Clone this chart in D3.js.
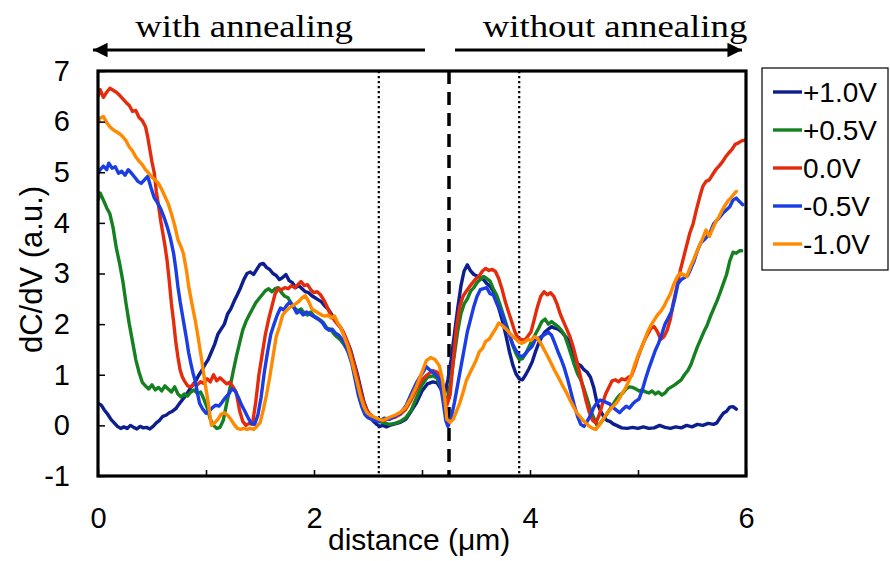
<!DOCTYPE html>
<html>
<head>
<meta charset="utf-8">
<script src="https://cdn.jsdelivr.net/npm/d3@7"></script>
<style>
  html, body { margin: 0; padding: 0; background: #fff; }
  svg { display: block; }
</style>
</head>
<body>
<svg id="chart" width="890" height="561"></svg>
<script>
// dC/dV profiles across the annealed / non-annealed boundary, one per bias voltage.
// Each series is a list of [distance (µm), dC/dV (a.u.)] samples.

const seriesNames = ["+1.0V", "+0.5V", "0.0V", "-0.5V", "-1.0V"];
const seriesColors = ["#0d1e8e", "#14801f", "#e42c0c", "#1a3de4", "#ff8a00"];

const xTicks = [0, 1, 2, 3, 4, 5, 6];
const xTickLabels = ["0", "", "2", "", "4", "", "6"];
const yTicks = [-1, 0, 1, 2, 3, 4, 5, 6, 7];

const boundaryX = 3.25;          // dashed line: edge of the annealed region
const markerXs = [2.6, 3.9];     // dotted reference lines

const vPlus10 = [
  [0.00,0.44],[0.03,0.40],[0.06,0.30],[0.09,0.22],[0.12,0.12],[0.15,0.05],[0.18,-0.02],[0.21,-0.06],
  [0.24,-0.03],[0.27,-0.06],[0.30,0.00],[0.33,-0.04],[0.36,-0.07],[0.39,-0.02],[0.42,-0.05],[0.45,-0.04],
  [0.48,-0.07],[0.51,-0.02],[0.54,0.05],[0.57,0.10],[0.60,0.18],[0.63,0.20],[0.66,0.25],[0.69,0.28],
  [0.72,0.33],[0.75,0.42],[0.78,0.50],[0.81,0.58],[0.84,0.68],[0.87,0.78],[0.90,0.86],[0.93,0.98],
  [0.96,1.08],[0.99,1.20],[1.02,1.30],[1.05,1.45],[1.08,1.60],[1.11,1.80],[1.14,1.90],[1.17,2.00],
  [1.20,2.20],[1.23,2.30],[1.26,2.45],[1.29,2.58],[1.32,2.72],[1.35,2.88],[1.38,3.00],[1.41,3.03],
  [1.44,2.98],[1.47,3.08],[1.50,3.18],[1.53,3.20],[1.56,3.12],[1.59,3.08],[1.62,3.00],[1.65,2.96],
  [1.68,2.88],[1.71,2.92],[1.74,2.98],[1.77,2.86],[1.80,2.82],[1.83,2.72],[1.86,2.76],[1.89,2.70],
  [1.92,2.64],[1.95,2.62],[1.98,2.56],[2.01,2.52],[2.04,2.48],[2.07,2.44],[2.10,2.36],[2.13,2.30],
  [2.16,2.20],[2.19,2.10],[2.22,2.00],[2.25,1.92],[2.28,1.78],[2.31,1.64],[2.34,1.48],[2.37,1.25],
  [2.40,1.02],[2.43,0.75],[2.46,0.48],[2.49,0.30],[2.52,0.18],[2.55,0.08],[2.58,0.02],[2.61,-0.02],
  [2.64,0.00],[2.67,-0.03],[2.70,0.00],[2.75,0.03],[2.80,0.06],[2.85,0.12],[2.90,0.28],[2.95,0.45],
  [3.00,0.68],[3.05,0.82],[3.10,0.86],[3.14,0.84],[3.18,0.70],[3.21,0.64],[3.24,0.90],[3.27,1.30],
  [3.30,1.80],[3.33,2.30],[3.36,2.75],[3.39,3.05],[3.42,3.17],[3.45,3.05],[3.48,2.98],[3.51,2.95],
  [3.54,2.92],[3.57,2.88],[3.60,2.80],[3.63,2.75],[3.66,2.65],[3.69,2.45],[3.72,2.25],[3.75,2.02],
  [3.78,1.75],[3.81,1.45],[3.84,1.20],[3.87,1.02],[3.90,0.92],[3.93,0.90],[3.96,1.00],[3.99,1.12],
  [4.02,1.25],[4.05,1.45],[4.08,1.62],[4.11,1.75],[4.14,1.85],[4.17,1.90],[4.20,1.95],[4.23,1.92],
  [4.26,1.90],[4.29,1.85],[4.32,1.78],[4.35,1.70],[4.38,1.55],[4.41,1.35],[4.44,1.22],[4.47,1.18],
  [4.50,1.10],[4.53,1.05],[4.56,0.95],[4.59,0.75],[4.62,0.45],[4.65,0.30],[4.68,0.18],[4.71,0.10],
  [4.74,0.08],[4.77,0.03],[4.80,0.00],[4.85,-0.05],[4.90,-0.06],[4.95,-0.04],[5.00,-0.06],[5.05,-0.03],
  [5.10,-0.06],[5.15,-0.05],[5.20,0.00],[5.25,-0.04],[5.30,-0.06],[5.35,-0.03],[5.40,-0.05],[5.45,0.00],
  [5.50,-0.03],[5.55,0.02],[5.60,0.00],[5.65,0.04],[5.70,0.02],[5.73,0.05],[5.76,0.15],[5.79,0.24],
  [5.82,0.28],[5.85,0.36],[5.88,0.37],[5.91,0.32]
];

const vPlus05 = [
  [0.00,4.45],[0.02,4.59],[0.05,4.45],[0.08,4.30],[0.11,4.18],[0.14,3.90],[0.17,3.50],[0.20,3.20],
  [0.23,2.85],[0.26,2.40],[0.29,2.00],[0.32,1.65],[0.35,1.30],[0.38,1.05],[0.41,0.85],[0.44,0.78],
  [0.47,0.72],[0.50,0.80],[0.53,0.70],[0.56,0.75],[0.59,0.68],[0.62,0.78],[0.65,0.72],[0.68,0.66],
  [0.71,0.76],[0.74,0.62],[0.77,0.56],[0.80,0.62],[0.83,0.58],[0.86,0.66],[0.89,0.70],[0.92,0.63],
  [0.95,0.66],[0.98,0.52],[1.01,0.35],[1.04,0.12],[1.07,0.00],[1.10,-0.06],[1.13,-0.04],[1.16,0.10],
  [1.19,0.42],[1.22,0.72],[1.25,1.05],[1.28,1.35],[1.31,1.62],[1.34,1.88],[1.37,2.05],[1.40,2.18],
  [1.43,2.30],[1.46,2.42],[1.49,2.50],[1.52,2.58],[1.55,2.66],[1.58,2.70],[1.61,2.64],[1.64,2.70],
  [1.67,2.72],[1.70,2.62],[1.73,2.55],[1.76,2.52],[1.79,2.40],[1.82,2.32],[1.85,2.26],[1.88,2.30],
  [1.91,2.22],[1.94,2.18],[1.97,2.24],[2.00,2.16],[2.03,2.12],[2.06,2.08],[2.09,2.02],[2.12,1.92],
  [2.15,1.90],[2.18,1.82],[2.21,1.75],[2.24,1.70],[2.27,1.62],[2.30,1.52],[2.33,1.40],[2.36,1.25],
  [2.39,1.02],[2.42,0.72],[2.45,0.45],[2.48,0.30],[2.51,0.22],[2.55,0.14],[2.60,0.08],[2.65,0.05],
  [2.70,0.02],[2.75,0.04],[2.80,0.08],[2.85,0.15],[2.90,0.30],[2.95,0.55],[3.00,0.80],[3.05,0.95],
  [3.10,0.98],[3.14,0.93],[3.18,0.72],[3.21,0.55],[3.24,0.50],[3.27,0.95],[3.30,1.40],[3.33,1.85],
  [3.36,2.20],[3.39,2.40],[3.42,2.50],[3.45,2.65],[3.48,2.72],[3.51,2.82],[3.54,2.88],[3.57,2.94],
  [3.60,2.90],[3.63,2.85],[3.66,2.70],[3.69,2.58],[3.72,2.40],[3.75,2.20],[3.78,2.00],[3.81,1.80],
  [3.84,1.58],[3.87,1.42],[3.90,1.30],[3.93,1.32],[3.96,1.42],[3.99,1.55],[4.02,1.68],[4.05,1.80],
  [4.08,1.92],[4.11,2.05],[4.14,2.10],[4.17,2.00],[4.20,2.05],[4.23,2.00],[4.26,1.95],[4.29,1.88],
  [4.32,1.78],[4.35,1.60],[4.38,1.40],[4.41,1.20],[4.44,1.02],[4.47,0.90],[4.50,0.72],[4.53,0.52],
  [4.56,0.30],[4.59,0.15],[4.62,0.00],[4.65,0.04],[4.68,0.12],[4.71,0.22],[4.74,0.32],[4.77,0.42],
  [4.80,0.52],[4.83,0.60],[4.86,0.64],[4.89,0.72],[4.92,0.76],[4.95,0.75],[4.98,0.72],[5.01,0.68],
  [5.04,0.70],[5.07,0.66],[5.10,0.64],[5.13,0.68],[5.16,0.62],[5.19,0.66],[5.22,0.60],[5.25,0.64],
  [5.28,0.72],[5.31,0.76],[5.34,0.80],[5.37,0.85],[5.40,0.90],[5.43,1.00],[5.46,1.08],[5.49,1.20],
  [5.52,1.38],[5.55,1.55],[5.58,1.70],[5.61,1.85],[5.64,1.98],[5.67,2.15],[5.70,2.30],[5.73,2.45],
  [5.76,2.62],[5.79,2.80],[5.82,2.98],[5.85,3.25],[5.88,3.42],[5.91,3.40],[5.94,3.45],[5.96,3.45]
];

const vZero = [
  [0.00,6.50],[0.02,6.63],[0.05,6.48],[0.08,6.58],[0.11,6.66],[0.14,6.62],[0.17,6.58],[0.20,6.52],
  [0.23,6.45],[0.26,6.38],[0.29,6.32],[0.32,6.20],[0.35,6.22],[0.38,6.08],[0.41,6.02],[0.44,5.90],
  [0.46,5.70],[0.48,5.45],[0.50,5.20],[0.52,5.00],[0.54,4.62],[0.56,4.35],[0.58,4.05],[0.60,3.80],
  [0.62,3.55],[0.64,3.25],[0.66,2.85],[0.68,2.40],[0.70,2.05],[0.72,1.65],[0.74,1.35],[0.76,1.10],
  [0.78,0.96],[0.80,0.88],[0.83,0.78],[0.86,0.76],[0.89,0.82],[0.92,0.80],[0.95,0.86],[0.98,0.83],
  [1.01,0.92],[1.04,0.86],[1.07,1.00],[1.10,0.88],[1.13,0.94],[1.16,0.88],[1.19,0.82],[1.22,0.85],
  [1.25,0.76],[1.28,0.65],[1.31,0.30],[1.34,0.08],[1.37,0.00],[1.40,0.04],[1.43,0.02],[1.46,0.45],
  [1.49,1.00],[1.52,1.40],[1.55,1.80],[1.58,2.10],[1.61,2.35],[1.64,2.60],[1.67,2.70],[1.70,2.68],
  [1.73,2.72],[1.76,2.70],[1.79,2.76],[1.82,2.72],[1.85,2.78],[1.88,2.84],[1.91,2.76],[1.94,2.78],
  [1.97,2.68],[2.00,2.62],[2.03,2.64],[2.06,2.58],[2.09,2.48],[2.12,2.35],[2.15,2.20],[2.18,2.10],
  [2.21,2.02],[2.24,1.95],[2.27,1.85],[2.30,1.70],[2.33,1.52],[2.36,1.30],[2.39,1.05],[2.42,0.78],
  [2.45,0.52],[2.48,0.34],[2.51,0.24],[2.55,0.16],[2.60,0.12],[2.65,0.10],[2.70,0.14],[2.75,0.16],
  [2.80,0.22],[2.85,0.32],[2.90,0.50],[2.95,0.72],[3.00,0.90],[3.05,1.00],[3.10,1.08],[3.14,1.05],
  [3.18,0.92],[3.21,0.62],[3.23,0.40],[3.26,0.60],[3.29,1.30],[3.32,1.95],[3.35,2.35],[3.38,2.55],
  [3.41,2.65],[3.44,2.74],[3.47,2.82],[3.50,2.90],[3.53,2.95],[3.56,3.05],[3.59,3.10],[3.62,3.06],
  [3.65,3.08],[3.68,3.04],[3.71,2.90],[3.74,2.70],[3.77,2.45],[3.80,2.25],[3.83,2.05],[3.86,1.85],
  [3.89,1.72],[3.92,1.70],[3.95,1.68],[3.98,1.76],[4.01,1.85],[4.04,2.10],[4.07,2.35],[4.10,2.55],
  [4.13,2.64],[4.16,2.58],[4.19,2.62],[4.22,2.55],[4.25,2.40],[4.28,2.20],[4.31,2.05],[4.34,1.90],
  [4.37,1.75],[4.40,1.55],[4.43,1.30],[4.46,1.03],[4.49,0.75],[4.52,0.48],[4.55,0.25],[4.58,0.10],
  [4.61,0.05],[4.64,0.20],[4.67,0.42],[4.70,0.62],[4.73,0.75],[4.76,0.88],[4.79,0.90],[4.82,0.86],
  [4.85,0.92],[4.88,0.90],[4.91,0.95],[4.94,0.98],[4.97,1.15],[5.00,1.35],[5.03,1.52],[5.06,1.68],
  [5.09,1.80],[5.12,1.92],[5.15,1.95],[5.18,1.85],[5.21,1.70],[5.24,1.75],[5.27,1.88],[5.30,2.10],
  [5.33,2.45],[5.36,2.74],[5.39,3.05],[5.42,3.30],[5.45,3.55],[5.48,3.80],[5.51,3.98],[5.54,4.25],
  [5.57,4.50],[5.60,4.72],[5.63,4.82],[5.66,4.85],[5.69,4.95],[5.72,5.05],[5.75,5.12],[5.78,5.20],
  [5.81,5.30],[5.84,5.38],[5.87,5.45],[5.90,5.55],[5.93,5.58],[5.96,5.62],[6.00,5.64]
];

const vMinus05 = [
  [0.00,4.98],[0.02,5.05],[0.05,5.12],[0.08,5.05],[0.10,5.18],[0.13,5.08],[0.16,5.11],[0.19,4.98],
  [0.22,5.02],[0.25,4.94],[0.28,5.05],[0.31,4.98],[0.34,4.90],[0.37,4.82],[0.40,4.78],[0.43,4.85],
  [0.46,4.92],[0.49,4.70],[0.52,4.50],[0.55,4.40],[0.58,4.28],[0.61,4.12],[0.64,3.93],[0.67,3.70],
  [0.70,3.40],[0.72,3.10],[0.74,2.74],[0.76,2.45],[0.78,2.20],[0.80,1.95],[0.82,1.70],[0.84,1.43],
  [0.86,1.22],[0.88,1.03],[0.90,0.88],[0.92,0.65],[0.94,0.44],[0.97,0.32],[1.00,0.24],[1.03,0.28],
  [1.06,0.35],[1.09,0.40],[1.12,0.38],[1.15,0.46],[1.18,0.55],[1.21,0.62],[1.24,0.72],[1.27,0.68],
  [1.30,0.55],[1.33,0.40],[1.36,0.28],[1.39,0.15],[1.42,0.04],[1.45,0.02],[1.48,0.20],[1.51,0.55],
  [1.54,1.05],[1.57,1.45],[1.60,1.80],[1.63,2.00],[1.66,2.18],[1.69,2.32],[1.72,2.28],[1.75,2.38],
  [1.78,2.44],[1.81,2.34],[1.84,2.22],[1.87,2.26],[1.90,2.18],[1.93,2.24],[1.96,2.20],[1.99,2.16],
  [2.02,2.12],[2.05,2.08],[2.08,2.02],[2.11,1.92],[2.14,1.88],[2.17,1.90],[2.20,1.82],[2.23,1.78],
  [2.26,1.70],[2.29,1.58],[2.32,1.42],[2.35,1.22],[2.38,0.92],[2.41,0.60],[2.44,0.38],[2.47,0.22],
  [2.50,0.15],[2.55,0.10],[2.60,0.08],[2.65,0.14],[2.70,0.12],[2.75,0.18],[2.80,0.24],[2.85,0.38],
  [2.90,0.62],[2.95,0.85],[3.00,1.02],[3.04,1.16],[3.08,1.08],[3.12,1.02],[3.16,0.92],[3.19,0.55],
  [3.22,0.10],[3.24,-0.02],[3.27,0.15],[3.30,0.45],[3.33,0.80],[3.36,1.15],[3.39,1.50],[3.42,1.85],
  [3.45,2.10],[3.48,2.35],[3.51,2.55],[3.54,2.68],[3.57,2.70],[3.60,2.72],[3.63,2.60],[3.66,2.58],
  [3.69,2.42],[3.72,2.30],[3.75,2.15],[3.78,1.95],[3.81,1.78],[3.84,1.60],[3.87,1.48],[3.90,1.38],
  [3.93,1.36],[3.96,1.42],[3.99,1.50],[4.02,1.56],[4.05,1.70],[4.08,1.72],[4.11,1.76],[4.14,1.80],
  [4.17,1.84],[4.20,1.78],[4.23,1.62],[4.26,1.45],[4.29,1.30],[4.32,1.12],[4.35,0.90],[4.38,0.65],
  [4.41,0.40],[4.44,0.18],[4.47,0.02],[4.50,-0.02],[4.53,0.08],[4.56,0.20],[4.59,0.35],[4.62,0.45],
  [4.65,0.50],[4.68,0.48],[4.71,0.45],[4.74,0.42],[4.77,0.35],[4.80,0.30],[4.83,0.25],[4.86,0.32],
  [4.89,0.38],[4.92,0.34],[4.95,0.42],[4.98,0.48],[5.01,0.52],[5.04,0.70],[5.07,0.92],[5.10,1.12],
  [5.13,1.30],[5.16,1.48],[5.19,1.62],[5.22,1.80],[5.25,2.00],[5.28,2.12],[5.31,2.25],[5.34,2.50],
  [5.37,2.80],[5.40,2.88],[5.43,2.92],[5.46,2.96],[5.49,3.10],[5.52,3.25],[5.55,3.45],[5.58,3.60],
  [5.61,3.66],[5.64,3.73],[5.67,3.82],[5.70,3.98],[5.73,4.05],[5.76,4.12],[5.79,4.20],[5.82,4.26],
  [5.85,4.32],[5.88,4.45],[5.91,4.49],[5.94,4.42],[5.97,4.36]
];

const vMinus10 = [
  [0.00,5.98],[0.02,6.07],[0.05,6.10],[0.08,5.98],[0.11,5.90],[0.14,5.84],[0.17,5.80],[0.20,5.76],
  [0.23,5.70],[0.26,5.62],[0.29,5.50],[0.32,5.42],[0.35,5.30],[0.38,5.22],[0.41,5.15],[0.44,5.05],
  [0.47,4.98],[0.50,4.90],[0.53,4.85],[0.56,4.78],[0.59,4.66],[0.62,4.52],[0.65,4.38],[0.68,4.18],
  [0.71,3.95],[0.74,3.67],[0.77,3.52],[0.79,3.40],[0.82,3.05],[0.84,2.74],[0.87,2.40],[0.90,2.08],
  [0.93,1.70],[0.96,1.29],[0.99,0.85],[1.02,0.45],[1.05,0.00],[1.08,0.05],[1.11,0.12],[1.14,0.22],
  [1.17,0.25],[1.20,0.20],[1.23,0.12],[1.26,0.02],[1.29,-0.06],[1.32,-0.08],[1.35,-0.06],[1.38,-0.08],
  [1.41,-0.06],[1.44,-0.08],[1.47,-0.02],[1.50,0.05],[1.53,0.30],[1.56,0.60],[1.59,0.95],[1.62,1.35],
  [1.65,1.75],[1.68,1.95],[1.71,2.18],[1.74,2.26],[1.77,2.32],[1.80,2.36],[1.83,2.40],[1.86,2.45],
  [1.89,2.52],[1.92,2.56],[1.95,2.45],[1.98,2.30],[2.01,2.26],[2.04,2.22],[2.07,2.18],[2.10,2.16],
  [2.13,2.18],[2.16,2.12],[2.19,2.16],[2.22,2.02],[2.25,1.92],[2.28,1.75],[2.31,1.58],[2.34,1.35],
  [2.37,1.10],[2.40,0.85],[2.43,0.58],[2.46,0.38],[2.49,0.25],[2.52,0.20],[2.56,0.16],[2.60,0.12],
  [2.64,0.10],[2.70,0.16],[2.75,0.20],[2.80,0.26],[2.85,0.36],[2.90,0.55],[2.95,0.78],[3.00,1.05],
  [3.04,1.28],[3.08,1.34],[3.12,1.30],[3.16,1.18],[3.19,0.90],[3.21,0.55],[3.23,0.12],[3.26,0.06],
  [3.29,0.12],[3.32,0.28],[3.35,0.44],[3.38,0.65],[3.41,0.88],[3.44,1.02],[3.47,1.15],[3.50,1.28],
  [3.53,1.45],[3.56,1.52],[3.59,1.66],[3.62,1.70],[3.65,1.80],[3.68,1.90],[3.71,2.02],[3.74,1.98],
  [3.77,1.92],[3.80,1.85],[3.83,1.78],[3.86,1.72],[3.89,1.66],[3.92,1.62],[3.95,1.65],[3.98,1.70],
  [4.01,1.68],[4.04,1.75],[4.07,1.72],[4.10,1.62],[4.13,1.50],[4.16,1.38],[4.19,1.25],[4.22,1.12],
  [4.25,1.00],[4.28,0.88],[4.31,0.75],[4.34,0.64],[4.37,0.50],[4.40,0.38],[4.43,0.26],[4.46,0.18],
  [4.49,0.10],[4.52,0.04],[4.55,-0.02],[4.58,-0.06],[4.61,-0.08],[4.64,0.00],[4.67,0.10],[4.70,0.20],
  [4.73,0.28],[4.76,0.36],[4.79,0.42],[4.82,0.50],[4.85,0.62],[4.88,0.72],[4.91,0.85],[4.94,1.00],
  [4.97,1.20],[5.00,1.38],[5.03,1.52],[5.06,1.68],[5.09,1.85],[5.12,1.98],[5.15,2.08],[5.18,2.18],
  [5.21,2.25],[5.24,2.35],[5.27,2.48],[5.30,2.60],[5.33,2.78],[5.36,2.92],[5.39,3.01],[5.42,2.98],
  [5.45,2.94],[5.48,3.10],[5.51,3.25],[5.54,3.40],[5.57,3.55],[5.60,3.70],[5.63,3.86],[5.66,3.73],
  [5.69,3.88],[5.72,4.02],[5.75,4.12],[5.78,4.25],[5.81,4.36],[5.84,4.45],[5.87,4.52],[5.90,4.60],
  [5.91,4.62]
];

const seriesData = [vPlus10, vPlus05, vZero, vMinus05, vMinus10];

// ---- layout ----
const svg = d3.select("#chart");
const plot = { left: 98, right: 746, top: 71, bottom: 476 };

const x = d3.scaleLinear().domain([0, 6]).range([plot.left, plot.right]);
const y = d3.scaleLinear().domain([-1, 7]).range([plot.bottom, plot.top]);

const sans = "Arial, 'Liberation Sans', Helvetica, sans-serif";
const serif = "'Times New Roman', 'Liberation Serif', Times, serif";

// clip so the traces stay inside the frame
svg.append("defs").append("clipPath").attr("id", "plotClip")
  .append("rect")
  .attr("x", plot.left).attr("y", plot.top)
  .attr("width", plot.right - plot.left).attr("height", plot.bottom - plot.top);

// reference lines
svg.append("g").selectAll("line").data(markerXs).join("line")
  .attr("x1", d => x(d)).attr("x2", d => x(d))
  .attr("y1", plot.top).attr("y2", plot.bottom)
  .attr("stroke", "#000").attr("stroke-width", 2.2)
  .attr("stroke-dasharray", "2.2,2.8");

svg.append("line")
  .attr("x1", x(boundaryX)).attr("x2", x(boundaryX))
  .attr("y1", plot.top).attr("y2", plot.bottom)
  .attr("stroke", "#000").attr("stroke-width", 3.5)
  .attr("stroke-dasharray", "13,8");

// traces
const line = d3.line().x(d => x(d[0])).y(d => y(d[1])).curve(d3.curveLinear);
svg.append("g").attr("clip-path", "url(#plotClip)")
  .selectAll("path").data(seriesData).join("path")
  .attr("d", line)
  .attr("fill", "none")
  .attr("stroke", (d, i) => seriesColors[i])
  .attr("stroke-width", 3.4)
  .attr("stroke-linejoin", "round")
  .attr("stroke-linecap", "round");

// axes (ticks point inward)
const xAxis = d3.axisBottom(x).tickValues(xTicks).tickSize(-6).tickPadding(31)
  .tickFormat((d, i) => xTickLabels[i]);
const gx = svg.append("g").attr("transform", `translate(0,${plot.bottom})`).call(xAxis);
gx.select(".domain").remove();
gx.selectAll(".tick line").attr("stroke", "#000").attr("stroke-width", 1.5);
gx.selectAll(".tick text").attr("font-family", sans).attr("font-size", 29).attr("fill", "#000");

const yAxis = d3.axisLeft(y).tickValues(yTicks).tickSize(-7).tickPadding(28)
  .tickFormat(d3.format("d"));
const gy = svg.append("g").attr("transform", `translate(${plot.left},0)`).call(yAxis);
gy.select(".domain").remove();
gy.selectAll(".tick line").attr("stroke", "#000").attr("stroke-width", 1.5);
gy.selectAll(".tick text").attr("font-family", sans).attr("font-size", 29).attr("fill", "#000")
  .text(d => d < 0 ? "-" + Math.abs(d) : String(d));

// frame
svg.append("rect")
  .attr("x", plot.left).attr("y", plot.top)
  .attr("width", plot.right - plot.left).attr("height", plot.bottom - plot.top)
  .attr("fill", "none").attr("stroke", "#000").attr("stroke-width", 3.2);

// axis titles
svg.append("text")
  .attr("x", 328).attr("y", 550)
  .attr("font-family", sans).attr("font-size", 30).attr("fill", "#000")
  .text("distance (μm)");

svg.append("text")
  .attr("transform", `translate(42,${(plot.top + plot.bottom) / 2 - 4}) rotate(-90)`)
  .attr("text-anchor", "middle")
  .attr("font-family", sans).attr("font-size", 31).attr("fill", "#000")
  .text("dC/dV (a.u.)");

// region headers with arrows
svg.append("defs").append("marker")
  .attr("id", "arrowHead").attr("viewBox", "0 0 10 10")
  .attr("refX", 10).attr("refY", 5)
  .attr("markerWidth", 5.2).attr("markerHeight", 5.2)
  .attr("markerUnits", "strokeWidth")
  .attr("orient", "auto")
  .append("path").attr("d", "M0,0 L10,5 L0,10 Z").attr("fill", "#000");

const headers = [
  { text: "with annealing", cx: 244, from: 425, to: 93 },
  { text: "without annealing", cx: 615, from: 455, to: 742 }
];
headers.forEach(h => {
  svg.append("text")
    .attr("transform", `translate(${h.cx},37) scale(1.15,1)`)
    .attr("text-anchor", "middle")
    .attr("font-family", serif).attr("font-size", 32).attr("fill", "#000")
    .text(h.text);
  svg.append("line")
    .attr("x1", h.from).attr("x2", h.to)
    .attr("y1", 50).attr("y2", 50)
    .attr("stroke", "#000").attr("stroke-width", 2.8)
    .attr("marker-end", "url(#arrowHead)");
});

// legend
const legend = svg.append("g");
legend.append("rect")
  .attr("x", 762).attr("y", 68).attr("width", 126).attr("height", 202)
  .attr("fill", "#fff").attr("stroke", "#000").attr("stroke-width", 1.2);
seriesNames.forEach((name, i) => {
  const ly = 92 + i * 38;
  legend.append("line")
    .attr("x1", 773).attr("x2", 802).attr("y1", ly).attr("y2", ly)
    .attr("stroke", seriesColors[i]).attr("stroke-width", 3.4);
  legend.append("text")
    .attr("x", 803).attr("y", ly + 10)
    .attr("font-family", sans).attr("font-size", 28).attr("fill", "#000")
    .text(name);
});
</script>
</body>
</html>
